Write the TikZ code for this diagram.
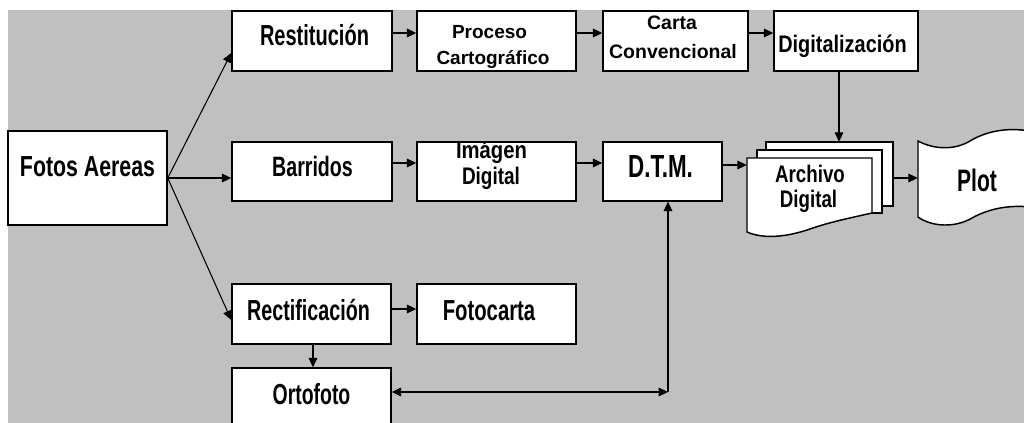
\documentclass[tikz,border=0pt]{standalone}
\usepackage{fontspec}
\usepackage{graphicx}
\setmainfont{Liberation Sans}
\usetikzlibrary{arrows.meta,calc,fit}
\definecolor{bggrey}{HTML}{C0C0C0}
\newcommand\lab[5]{\node[lbl,font=\fontsize{#3}{#3}\selectfont\bfseries] (#1) at (#2) {\scalebox{#4}[1]{#5}};}
\begin{document}
\begin{tikzpicture}[x=0.75pt,y=-0.75pt,
  box/.style={draw,fill=white,line width=1.1pt,inner sep=0pt},
  sheet/.style={draw,fill=white,line width=1.1pt},
  arr/.style={line width=0.8pt,-{Triangle[length=7pt,width=6.5pt]}},
  arrboth/.style={line width=0.8pt,{Triangle[length=7pt,width=6.5pt]}-{Triangle[length=7pt,width=6.5pt]}},
  lbl/.style={anchor=base,inner sep=0pt}]
\useasboundingbox (0,0) rectangle (1024,423);
\clip (0,0) rectangle (1024,423);
\fill[white] (0,0) rectangle (1024,423);
\fill[bggrey] (8,10) rectangle (1030,430);

% boxes
\node[box,fit={(8,131)(167,225)}] (fotos) {};
\node[box,fit={(232,11)(392,71)}] (rest) {};
\node[box,fit={(417,11)(576,71)}] (proc) {};
\node[box,fit={(603,11)(748,71)}] (carta) {};
\node[box,fit={(774,11)(918,71)}] (digz) {};
\node[box,fit={(232,142)(392,201)}] (barr) {};
\node[box,fit={(417,142)(576,201)}] (imag) {};
\node[box,fit={(603,142)(722,201)}] (dtm) {};
\node[box,fit={(232,284)(391,344)}] (rect) {};
\node[box,fit={(417,284)(576,344)}] (fotoc) {};
\node[box,fit={(232,368)(391,440)}] (orto) {};

% archivo digital (stack of documents)
\filldraw[sheet] (766,142) rectangle (893,206);
\filldraw[sheet] (757,150) rectangle (882,213);
\filldraw[sheet] (747,158) -- (872,158) -- (872,213) .. controls (850,218) and (830,222) .. (810,229) .. controls (790,236) and (765,240) .. (747,232) -- cycle;
\node[fit={(747,142)(893,236)},inner sep=0pt] (arch) {};

% plot (tape shape)
\filldraw[sheet] (918,141) .. controls (935,150) and (955,150) .. (970,141) .. controls (985,132) and (1005,127) .. (1030,131) -- (1030,207) .. controls (1010,205) and (990,208) .. (972,218) .. controls (955,228) and (932,227) .. (918,217) -- cycle;
\node[fit={(918,130)(1024,227)},inner sep=0pt] (plot) {};

% labels
\lab{tfotos}{87.5,177}{21.75}{0.735}{Fotos Aereas}
\lab{trest}{314.5,46}{21.75}{0.69}{Restitución}
\lab{tbarr}{312.5,177}{21}{0.70}{Barridos}
\lab{trect}{308.5,321}{21.75}{0.68}{Rectificación}
\lab{tfotoc}{489,321}{21.75}{0.70}{Fotocarta}
\lab{torto}{311.5,405}{21.75}{0.67}{Ortofoto}
\lab{tdtm}{660.5,178}{24}{0.70}{D.T.M.}
\lab{tplot}{977,192}{23.25}{0.68}{Plot}
\lab{tdigz}{842.5,53}{18}{0.83}{Digitalización}
\begin{scope}
\clip (417,142) rectangle (576,201);
\lab{timag}{491.5,159}{18}{0.845}{Imágen}
\end{scope}
\lab{timag2}{491,185}{18}{0.79}{Digital}
\lab{tarch}{810,183}{18}{0.78}{Archivo}
\lab{tarch2}{808.5,208}{18}{0.78}{Digital}
\lab{tproc}{489.5,39}{14.25}{1.0}{Proceso}
\lab{tproc2}{493,65}{14.25}{1.0}{Cartográfico}
\lab{tcarta}{672,30}{14.6}{1.0}{Carta}
\lab{tcarta2}{673,59}{14.6}{1.0}{Convencional}

% connectors
\draw[arr] (fotos.east) -- ($(rest.west)+(0,12)$);
\draw[arr] (fotos.east) -- (fotos.east -| barr.west);
\draw[arr] (fotos.east) -- ($(rect.west)+(0,6)$);
\draw[arr] ($(rest.east)+(0,-8)$) coordinate (t1) -- (t1 -| proc.west);
\draw[arr] ($(proc.east)+(0,-8)$) coordinate (t2) -- (t2 -| carta.west);
\draw[arr] ($(carta.east)+(0,-8)$) coordinate (t3) -- (t3 -| digz.west);
\draw[arr] ($(barr.east)+(0,-8.5)$) coordinate (m1) -- (m1 -| imag.west);
\draw[arr] ($(imag.east)+(0,-8.5)$) coordinate (m2) -- (m2 -| dtm.west);
\draw[arr] ($(dtm.east)+(0,-6.5)$) coordinate (m3) -- (m3 -| arch.west);
\draw[arr] ($(digz.south)+(-7,0)$) coordinate (d1) -- (d1 |- arch.north);
\draw[arr] ($(arch.east)+(0,-11)$) coordinate (p1) -- (p1 -| plot.west);
\draw[arr] ($(rect.east)+(0,-5)$) coordinate (b1) -- (b1 -| fotoc.west);
\draw[arr] ($(rect.south)+(1.5,0)$) coordinate (b2) -- (b2 |- orto.north);
\coordinate (c1) at (668,392);
\draw[arrboth] (c1 -| orto.east) -- (c1);
\draw[arr] (c1) -- (c1 |- dtm.south);
\end{tikzpicture}
\end{document}
